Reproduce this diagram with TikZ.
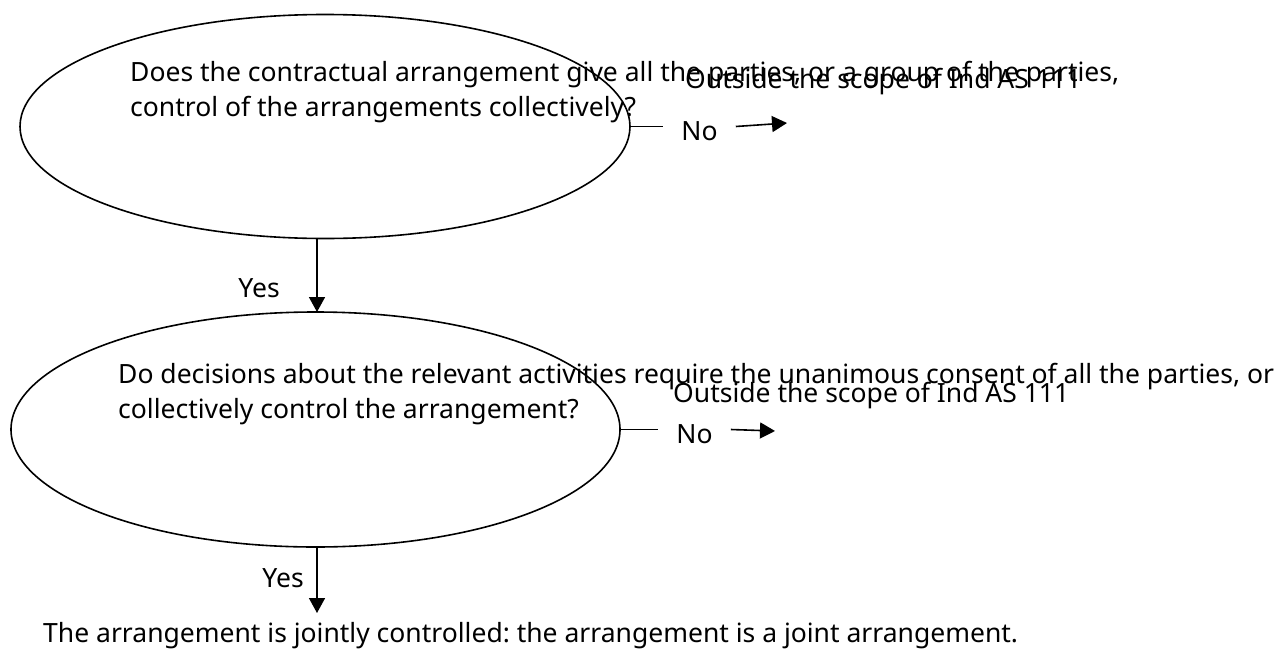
\documentclass[tikz,border=0pt]{standalone}
\usepackage{fontspec}
\setmainfont{Noto Sans}
\frenchspacing
\usetikzlibrary{shapes.geometric,arrows.meta,calc}
\begin{document}
\begin{tikzpicture}[x=1pt,y=-1pt,
  decision/.style={draw,line width=1.6pt,ellipse,inner sep=0pt},
  txt/.style={inner sep=0pt,anchor=base west,align=left,font=\fontsize{26.5}{35}\selectfont},
  lbl/.style={inner sep=0pt,font=\fontsize{26.5}{35}\selectfont},
  conn/.style={line width=1.6pt},
  arr/.style={line width=1.6pt,-{Triangle[length=15pt,width=16pt]}}]
\useasboundingbox (0,0) rectangle (1277,648);
% decisions
\node[decision,minimum width=610pt,minimum height=224pt] (e1) at (325,126.5) {};
\node[decision,minimum width=609pt,minimum height=235pt] (e2) at (315.5,429.5) {};
% question texts (base = baseline of last line)
\node[txt] (q1) at (130,116.7) {Does the contractual arrangement give all the parties, or a group of the parties,\\control of the arrangements collectively?};
\node[txt] (q2) at (118,418) {Do decisions about the relevant activities require the unanimous consent of all the parties, or\\collectively control the arrangement?};
% outside texts
\node[txt] (o1) at (685,88) {Outside the scope of Ind AS 111};
\node[txt] (o2) at (673,402) {Outside the scope of Ind AS 111};
% No labels
\node[lbl,anchor=base,inner xsep=18pt] (n1) at (699.5,140) {No};
\node[lbl,anchor=base,inner xsep=18pt] (n2) at (694.5,443) {No};
\coordinate (a1) at (787,123);
\coordinate (a2) at (775,431);
\draw[conn] (e1.east) -- (e1.east -| n1.west);
\draw[arr] (e1.east -| n1.east) -- (a1);
\draw[conn] (e2.east) -- (e2.east -| n2.west);
\draw[arr] (e2.east -| n2.east) -- (a2);
% Yes arrows
\coordinate (s1) at (317,238);
\coordinate (t1) at (317,312);
\draw[arr] (s1) -- (t1);
\node[lbl,anchor=base east] (y1) at (280,297) {Yes};
\node[txt] (bt) at (43,642) {The arrangement is jointly controlled: the arrangement is a joint arrangement.};
\coordinate (s2) at (317,547);
\coordinate (t2) at (317,613);
\draw[arr] (s2) -- (t2);
\node[lbl,anchor=base east] (y2) at (304,587) {Yes};
\end{tikzpicture}
\end{document}
